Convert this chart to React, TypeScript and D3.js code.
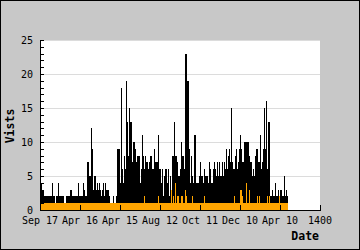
import React from "react";
import * as d3 from "d3";

// Each entry covers 5 units on the x axis, starting at 0
const binSize = 5;
const visits = [
  4,4,3,3,2,2,2,2,2,2,
  2,2,4,2,2,1,2,2,4,2,
  2,2,2,2,1,1,2,2,2,2,
  3,3,2,2,2,2,2,2,4,2,
  2,2,2,4,3,2,2,7,7,5,
  5,12,9,3,5,5,3,4,3,4,
  3,2,3,4,2,4,3,3,3,2,
  1,1,1,2,1,1,2,9,9,9,
  4,18,6,4,8,6,19,13,8,15,
  13,13,7,10,10,9,7,8,8,8,
  4,6,11,8,6,8,7,7,6,7,
  8,8,6,6,9,7,7,7,11,6,
  6,4,6,2,5,6,6,4,6,2,
  5,3,8,8,13,8,8,7,5,5,
  6,10,8,8,6,23,23,19,19,9,
  4,8,5,4,11,11,4,4,4,5,
  7,5,5,4,6,5,5,5,4,7,
  6,4,4,6,7,6,5,7,5,7,
  5,5,7,5,7,6,9,6,8,9,
  7,15,7,6,6,8,9,6,7,9,
  11,9,7,7,10,10,10,10,10,8,
  7,7,5,6,5,8,9,9,7,7,
  11,6,7,9,15,9,16,6,13,13,
  2,2,3,2,2,4,2,2,3,2,
  3,3,2,2,5,2,3,2,
];
const uniques = [
  1,1,1,1,1,1,1,1,1,1,
  1,1,1,1,1,1,1,1,1,1,
  1,1,1,1,1,1,1,1,1,1,
  1,1,1,1,1,1,1,1,1,1,
  1,1,1,1,1,1,1,1,1,1,
  1,1,1,1,1,1,1,1,1,1,
  1,1,1,1,1,1,1,1,1,1,
  1,1,1,1,1,1,1,1,1,1,
  1,1,1,1,1,1,1,1,1,1,
  1,1,1,1,1,1,1,1,1,1,
  1,1,1,1,2,1,1,1,1,1,
  1,1,1,1,1,1,1,1,2,1,
  1,1,1,1,1,1,1,1,1,1,
  1,3,1,2,1,4,1,2,2,1,
  1,2,2,1,1,3,2,1,1,1,
  1,1,2,1,1,1,1,1,1,1,
  1,1,1,1,2,1,1,1,1,1,
  1,1,1,1,1,1,1,1,1,1,
  1,1,1,1,1,1,1,1,1,1,
  1,1,1,1,2,1,1,1,1,1,
  3,3,2,1,1,1,4,1,1,3,
  1,1,1,1,1,1,1,2,1,2,
  1,1,1,1,1,1,1,2,1,2,
  1,1,1,1,1,1,1,1,1,2,
  1,1,1,1,1,1,1,1,
];
const xTickValues = [0, 200, 400, 600, 800, 1000, 1200, 1400];
const xTickLabels = ["Sep 17", "Apr 16", "Apr 15", "Aug 12", "Oct 11", "Dec 10", "Apr 10", "1400"];
const yTickValues = [0, 5, 10, 15, 20, 25];
const yMinorTicks = d3.range(0, 26);
const yTitle = "Vists";
const xTitle = "Date";

const W = 360, H = 250;
const M = { left: 40, right: 320, top: 40, bottom: 210 };
const FONT = "'DejaVu Sans Mono', monospace";

export default function App() {
  const x = d3.scaleLinear().domain([0, 1400]).range([M.left, M.right]);
  const y = d3.scaleLinear().domain([0, 25]).range([M.bottom, M.top]);
  const bw = x(binSize) - x(0);
  return (
    <svg width={W} height={H} style={{ position: "fixed", left: 0, top: 0 }} shapeRendering="crispEdges">
      <rect x={0.5} y={0.5} width={W - 1} height={H - 1} fill="#c8c8c8" stroke="#000" />
      <rect x={M.left} y={M.top} width={M.right - M.left} height={M.bottom - M.top} fill="#fff" />
      {yTickValues.filter(v => v > 0).map(v => (
        <line key={"g" + v} x1={M.left} x2={M.right} y1={Math.round(y(v)) + 0.5} y2={Math.round(y(v)) + 0.5} stroke="#dcdcdc" />
      ))}
      {visits.map((v, i) => (
        <rect key={"v" + i} x={x(i * binSize)} width={bw} y={y(v)} height={y(0) - y(v)} fill="#000" />
      ))}
      {uniques.map((v, i) => (
        <rect key={"u" + i} x={x(i * binSize)} width={bw} y={y(v)} height={y(0) - y(v)} fill="#ffa500" />
      ))}
      <line x1={M.left + 0.5} x2={M.left + 0.5} y1={M.top} y2={M.bottom + 1} stroke="#000" />
      <line x1={M.left} x2={M.right + 1} y1={M.bottom + 0.5} y2={M.bottom + 0.5} stroke="#000" />
      {yMinorTicks.map(v => (
        <line key={"yt" + v} x1={M.left} x2={M.left + 4} y1={Math.round(y(v)) + 0.5} y2={Math.round(y(v)) + 0.5} stroke="#000" />
      ))}
      {xTickValues.filter(v => v > 0).map(v => (
        <line key={"xt" + v} x1={Math.round(x(v)) + 0.5} x2={Math.round(x(v)) + 0.5} y1={M.bottom - 5} y2={M.bottom + 1} stroke="#000" />
      ))}
      {yTickValues.map(v => (
        <text key={"yl" + v} x={33} y={y(v) + 3.5} textAnchor="end" fontFamily={FONT} fontSize={10} fill="#000">{v}</text>
      ))}
      {xTickValues.map((v, i) => (
        <text key={"xl" + v} x={x(v)} y={224} textAnchor="middle" fontFamily={FONT} fontSize={10} fill="#000">{xTickLabels[i]}</text>
      ))}
      <text x={319} y={240} textAnchor="end" fontFamily={FONT} fontSize={11.5} fontWeight="bold" fill="#000">{xTitle}</text>
      <text transform={`translate(14,126) rotate(-90)`} textAnchor="middle" fontFamily={FONT} fontSize={11.5} fontWeight="bold" fill="#000">{yTitle}</text>
    </svg>
  );
}
